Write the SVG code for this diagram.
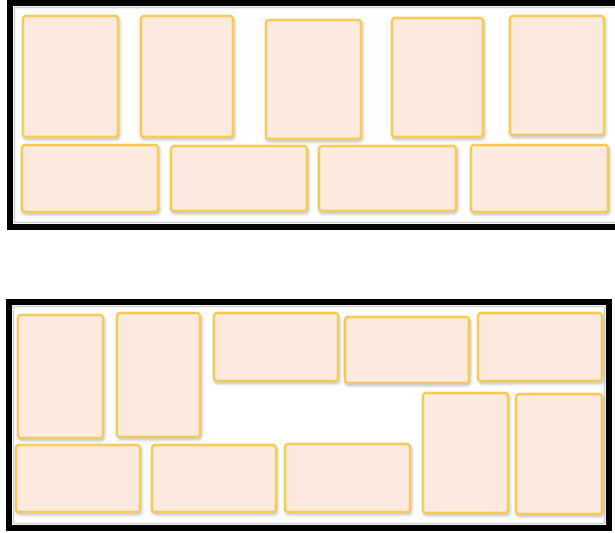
<svg xmlns="http://www.w3.org/2000/svg" width="615" height="533" viewBox="0 0 615 533">
<defs>
<filter id="sh" x="-10%" y="-10%" width="130%" height="130%">
<feDropShadow dx="1" dy="2" stdDeviation="1.5" flood-color="#8a94a8" flood-opacity="0.55"/>
</filter>
<style>
.frame{fill:#ffffff;stroke:#000000;stroke-width:6}
.inner{fill:none;stroke:#d0d0d0;stroke-width:1.5}
.box{fill:#fdeadf;stroke:#f6cb55;stroke-width:2.5;filter:url(#sh)}
</style>
</defs>
<rect width="615" height="533" fill="#ffffff"/>
<g id="frame-top">
<rect class="frame" x="10" y="3" width="610" height="224"/>
<rect class="inner" x="14.5" y="7.5" width="610" height="215"/>
</g>
<g id="frame-bottom">
<rect class="frame" x="9" y="302" width="600" height="226"/>
<rect class="inner" x="13.5" y="306.5" width="591" height="217"/>
</g>
<g id="top-r1-1"><rect class="box" x="23" y="16" width="95" height="121" rx="3"/></g>
<g id="top-r1-2"><rect class="box" x="141" y="16" width="92" height="121" rx="3"/></g>
<g id="top-r1-3"><rect class="box" x="266" y="20" width="95" height="119" rx="3"/></g>
<g id="top-r1-4"><rect class="box" x="392" y="18" width="91" height="119" rx="3"/></g>
<g id="top-r1-5"><rect class="box" x="510" y="16" width="94" height="119" rx="3"/></g>
<g id="top-r2-1"><rect class="box" x="22" y="145" width="136" height="67" rx="3"/></g>
<g id="top-r2-2"><rect class="box" x="171" y="146" width="136" height="65" rx="3"/></g>
<g id="top-r2-3"><rect class="box" x="319" y="146" width="137" height="65" rx="3"/></g>
<g id="top-r2-4"><rect class="box" x="471" y="145" width="137" height="67" rx="3"/></g>
<g id="bot-tall-1"><rect class="box" x="18" y="315" width="85" height="123" rx="3"/></g>
<g id="bot-tall-2"><rect class="box" x="117" y="313" width="83" height="124" rx="3"/></g>
<g id="bot-wide-1"><rect class="box" x="214" y="313" width="124" height="68" rx="3"/></g>
<g id="bot-wide-2"><rect class="box" x="345" y="317" width="124" height="66" rx="3"/></g>
<g id="bot-wide-3"><rect class="box" x="478" y="313" width="124" height="68" rx="3"/></g>
<g id="bot-tall-3"><rect class="box" x="423" y="393" width="85" height="120" rx="3"/></g>
<g id="bot-tall-4"><rect class="box" x="516" y="394" width="86" height="120" rx="3"/></g>
<g id="bot-low-1"><rect class="box" x="16" y="445" width="124" height="67" rx="3"/></g>
<g id="bot-low-2"><rect class="box" x="152" y="445" width="124" height="67" rx="3"/></g>
<g id="bot-low-3"><rect class="box" x="285" y="444" width="125" height="68" rx="3"/></g>
<g id="connectors"></g>
</svg>
